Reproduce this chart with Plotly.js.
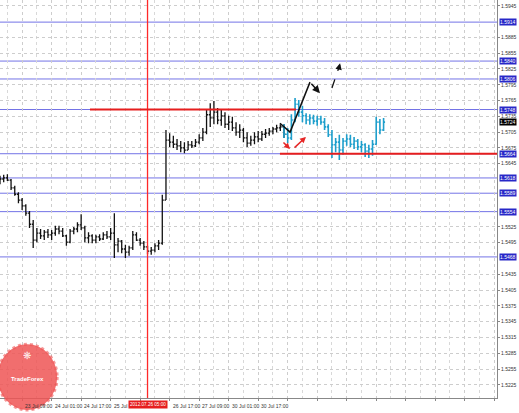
<!DOCTYPE html>
<html>
<head>
<meta charset="utf-8">
<script src="https://cdn.plot.ly/plotly-3.0.1.min.js"></script>
<style>html,body{margin:0;padding:0;background:#fff;}#chart{width:519px;height:413px;}</style>
</head>
<body>
<div id="chart"></div>
<script>
// ---- OHLC bars (2-hour bars) ----
const openP  = [1.5610,1.5616,1.5618,1.5614,1.5599,1.5587,1.5576,1.5565,1.5551,1.5530,
                1.5500,1.5513,1.5508,1.5515,1.5510,1.5513,1.5521,1.5517,1.5508,1.5496,
                1.5517,1.5521,1.5529,1.5523,1.5504,1.5508,1.5500,1.5506,1.5502,1.5510,
                1.5506,1.5513,1.5491,1.5498,1.5483,1.5477,1.5485,1.5510,1.5500,1.5494,
                1.5487,1.5479,1.5481,1.5489,1.5494,1.5576,1.5690,1.5686,1.5682,1.5679,
                1.5675,1.5671,1.5681,1.5679,1.5686,1.5694,1.5705,1.5738,1.5732,1.5743,
                1.5728,1.5736,1.5720,1.5724,1.5713,1.5705,1.5709,1.5694,1.5684,1.5690,
                1.5696,1.5692,1.5701,1.5703,1.5707,1.5711,1.5713,1.5715,1.5701,1.5694,
                1.5728,1.5758,1.5743,1.5736,1.5728,1.5732,1.5726,1.5730,1.5724,1.5715,
                1.5700,1.5681,1.5686,1.5671,1.5688,1.5692,1.5682,1.5688,1.5677,1.5681,
                1.5669,1.5673,1.5682,1.5724,1.5709];
const highP  = [1.5622,1.5624,1.5625,1.5616,1.5603,1.5591,1.5580,1.5568,1.5555,1.5538,
                1.5523,1.5521,1.5519,1.5521,1.5519,1.5527,1.5527,1.5523,1.5510,1.5521,
                1.5525,1.5534,1.5549,1.5527,1.5515,1.5511,1.5510,1.5511,1.5515,1.5517,
                1.5523,1.5551,1.5504,1.5500,1.5491,1.5489,1.5517,1.5515,1.5504,1.5498,
                1.5489,1.5487,1.5494,1.5500,1.5586,1.5709,1.5703,1.5698,1.5692,1.5688,
                1.5686,1.5688,1.5688,1.5692,1.5701,1.5713,1.5747,1.5760,1.5764,1.5751,
                1.5747,1.5743,1.5736,1.5734,1.5724,1.5720,1.5713,1.5705,1.5698,1.5705,
                1.5707,1.5707,1.5711,1.5713,1.5715,1.5719,1.5720,1.5720,1.5713,1.5739,
                1.5770,1.5766,1.5755,1.5741,1.5739,1.5738,1.5736,1.5736,1.5732,1.5720,
                1.5709,1.5694,1.5700,1.5694,1.5701,1.5700,1.5696,1.5692,1.5688,1.5684,
                1.5681,1.5690,1.5734,1.5730,1.5732];
const lowP   = [1.5606,1.5610,1.5612,1.5595,1.5584,1.5570,1.5557,1.5546,1.5523,1.5485,
                1.5496,1.5502,1.5500,1.5504,1.5500,1.5508,1.5511,1.5506,1.5489,1.5494,
                1.5511,1.5515,1.5519,1.5496,1.5494,1.5494,1.5494,1.5498,1.5500,1.5502,
                1.5500,1.5466,1.5477,1.5475,1.5466,1.5470,1.5481,1.5498,1.5489,1.5481,
                1.5473,1.5472,1.5477,1.5481,1.5491,1.5576,1.5677,1.5675,1.5671,1.5667,
                1.5665,1.5671,1.5675,1.5677,1.5682,1.5688,1.5701,1.5715,1.5720,1.5720,
                1.5717,1.5713,1.5709,1.5707,1.5698,1.5694,1.5686,1.5677,1.5679,1.5682,
                1.5686,1.5688,1.5694,1.5698,1.5701,1.5705,1.5707,1.5694,1.5684,1.5690,
                1.5724,1.5734,1.5724,1.5720,1.5719,1.5720,1.5717,1.5719,1.5709,1.5696,
                1.5656,1.5667,1.5652,1.5662,1.5679,1.5677,1.5673,1.5671,1.5667,1.5658,
                1.5656,1.5660,1.5681,1.5701,1.5707];
const closeP = [1.5616,1.5618,1.5614,1.5599,1.5587,1.5576,1.5565,1.5551,1.5530,1.5500,
                1.5513,1.5508,1.5515,1.5510,1.5513,1.5521,1.5517,1.5508,1.5496,1.5517,
                1.5521,1.5529,1.5523,1.5504,1.5508,1.5500,1.5506,1.5502,1.5510,1.5506,
                1.5513,1.5491,1.5498,1.5483,1.5477,1.5485,1.5510,1.5500,1.5494,1.5487,
                1.5479,1.5481,1.5489,1.5494,1.5576,1.5690,1.5686,1.5682,1.5679,1.5675,
                1.5671,1.5681,1.5679,1.5686,1.5694,1.5705,1.5738,1.5732,1.5743,1.5728,
                1.5736,1.5720,1.5724,1.5713,1.5705,1.5709,1.5694,1.5684,1.5690,1.5696,
                1.5692,1.5701,1.5703,1.5707,1.5711,1.5713,1.5715,1.5701,1.5694,1.5728,
                1.5758,1.5743,1.5736,1.5728,1.5732,1.5726,1.5730,1.5724,1.5715,1.5700,
                1.5681,1.5686,1.5671,1.5688,1.5692,1.5682,1.5688,1.5677,1.5681,1.5669,
                1.5673,1.5682,1.5724,1.5709,1.5724];
const cyanFrom = 77;          // first bar drawn in cyan
const barHours = 2;           // each bar = 2 hours on the time axis

// ---- price axis ----
const priceTicks = [1.5945,1.5885,1.5855,1.5825,1.5795,1.5765,1.5735,1.5705,1.5675,1.5645,
                    1.5525,1.5495,1.5435,1.5405,1.5375,1.5345,1.5315,1.5285,1.5255,1.5225];
const levelsBlue = [1.5914,1.5840,1.5806,1.5748,1.5664,1.5618,1.5589,1.5554,1.5468];
const lastPrice = 1.5724;
const bottomPriceLabel = 1.5195;

// ---- time axis ----
const timeTickHours = [-4,12,28,44,60,76,92,108,124,140];
const timeTickLabels = ["22 Jul 17:00","23 Jul 09:00","24 Jul 01:00","24 Jul 17:00","25 Jul 09:00",
                        "","26 Jul 17:00","27 Jul 09:00","30 Jul 01:00","30 Jul 17:00"];
const cursorHour = 80;
const cursorLabel = "2012.07.26 05:00";

// ---- analyst drawings ----
const redLevelA = {price:1.5748, from:48.8, to:160.5};
const redLevelB = {price:1.5664, from:151.8, to:269.5};
const blackPathH = [151.8,157.3,168.1];
const blackPathP = [1.5722,1.5705,1.5800];
const blackArrowEnd = {h:173.5, p:1.5779};
const dashedFrom = {h:180.0, p:1.5789};
const dashedTo = {h:184.4, p:1.5836};

const FONT = 'Liberation Sans, Arial, sans-serif';
const idx = openP.map((_, i) => i);
const hours = idx.map(i => i * barHours);
function part(arr, a, b){ return arr.slice(a, b); }

function ohlcTrace(a, b, color, w){
  return {
    type:'ohlc', x: part(hours,a,b), open: part(openP,a,b), high: part(highP,a,b),
    low: part(lowP,a,b), close: part(closeP,a,b),
    increasing:{line:{color:color, width:w}}, decreasing:{line:{color:color, width:w}},
    tickwidth:0.4, hoverinfo:'skip', showlegend:false
  };
}
const traces = [
  ohlcTrace(0, cyanFrom + 1, '#111111', 1.3),
  ohlcTrace(cyanFrom, openP.length, '#1f9fcc', 1.6)
];

const shapes = [];
levelsBlue.forEach(v => shapes.push({type:'line', xref:'paper', x0:0, x1:1, yref:'y', y0:v, y1:v,
  line:{color:'rgb(115,115,230)', width:1}, layer:'below'}));
shapes.push({type:'line', xref:'x', x0:cursorHour, x1:cursorHour, yref:'paper', y0:0, y1:1,
  line:{color:'rgb(255,40,40)', width:1.3}, layer:'above'});
[redLevelA, redLevelB].forEach(r => shapes.push({type:'line', x0:r.from, x1:r.to, y0:r.price, y1:r.price,
  line:{color:'rgb(230,30,30)', width:2}}));
let path = 'M ' + blackPathH[0] + ',' + blackPathP[0];
for (let i = 1; i < blackPathH.length; i++) path += ' L ' + blackPathH[i] + ',' + blackPathP[i];
shapes.push({type:'path', path: path, line:{color:'#111', width:1.5}});
shapes.push({type:'line', x0:dashedFrom.h, y0:dashedFrom.p, x1:dashedTo.h - 0.6, y1:dashedTo.p - 0.0008,
  line:{color:'#111', width:1.3, dash:'dash'}});
// watermark logo
shapes.push({type:'circle', xref:'paper', yref:'paper', x0:-0.005, x1:0.115, y0:-0.03, y1:0.135,
  fillcolor:'rgba(238,85,85,0.85)', line:{color:'rgba(238,85,85,0.6)', width:3, dash:'dot'}});

const ann = [];
levelsBlue.forEach(v => ann.push({xref:'paper', x:1, xanchor:'left', xshift:2, yref:'y', y:v,
  text:v.toFixed(4), showarrow:false, bgcolor:'rgb(40,40,200)', borderpad:0,
  font:{size:5, color:'#fff', family:FONT}}));
ann.push({xref:'paper', x:1, xanchor:'left', xshift:2, yref:'y', y:lastPrice, text:lastPrice.toFixed(4),
  showarrow:false, bgcolor:'#000', borderpad:0, font:{size:5, color:'#fff', family:FONT}});
ann.push({xref:'paper', x:1, xanchor:'left', xshift:3, yref:'y', y:bottomPriceLabel, text:bottomPriceLabel.toFixed(4),
  showarrow:false, font:{size:5, color:'#333', family:FONT}});
timeTickHours.forEach((h, i) => { if (timeTickLabels[i]) ann.push({xref:'x', x:h, xanchor:'left', xshift:1,
  yref:'paper', y:0, yanchor:'top', yshift:-3, text:timeTickLabels[i], showarrow:false,
  font:{size:5, color:'#333', family:FONT}}); });
ann.push({xref:'x', x:cursorHour, xanchor:'center', yref:'paper', y:0, yanchor:'top', yshift:-2,
  text:cursorLabel, showarrow:false, bgcolor:'rgb(230,30,30)', borderpad:1,
  font:{size:4.6, color:'#fff', family:FONT}});
// arrows
ann.push({x:blackArrowEnd.h, y:blackArrowEnd.p, ax:blackPathH[2], ay:blackPathP[2], axref:'x', ayref:'y',
  showarrow:true, arrowhead:2, arrowsize:1, arrowwidth:1.5, arrowcolor:'#111', text:''});
ann.push({x:dashedTo.h, y:dashedTo.p, ax:dashedTo.h - 0.8, ay:dashedTo.p - 0.0012, axref:'x', ayref:'y',
  showarrow:true, arrowhead:2, arrowsize:1, arrowwidth:1.3, arrowcolor:'#111', text:''});
ann.push({x:157.3, y:1.5673, ax:152.9, ay:1.5688, axref:'x', ayref:'y',
  showarrow:true, arrowhead:2, arrowsize:0.8, arrowwidth:1.5, arrowcolor:'rgb(230,40,40)', text:''});
ann.push({x:165.9, y:1.5696, ax:158.9, ay:1.5673, axref:'x', ayref:'y',
  showarrow:true, arrowhead:2, arrowsize:0.8, arrowwidth:1.5, arrowcolor:'rgb(230,40,40)', text:''});
ann.push({xref:'paper', yref:'paper', x:0.055, xanchor:'center', y:0.035, text:'<b>TradeForex</b>', showarrow:false,
  font:{size:6, color:'#fff', family:FONT}});
ann.push({xref:'paper', yref:'paper', x:0.055, xanchor:'center', y:0.085, text:'❋', showarrow:false,
  font:{size:10, color:'rgba(255,255,255,0.9)'}});

const layout = {
  width:519, height:413,
  margin:{l:0, r:22, t:0, b:15, pad:0},
  paper_bgcolor:'#fff', plot_bgcolor:'#fff',
  showlegend:false,
  xaxis:{range:[0,269.5], rangeslider:{visible:false}, tickmode:'array',
    tickvals:[12,28,44,60,76,92,108,124,140,156,172,188,204,220,236,252,268], showticklabels:false,
    ticks:'outside', ticklen:2, tickcolor:'#888', showline:true, linecolor:'#888', linewidth:1,
    showgrid:true, gridcolor:'#cdcdcd', griddash:'dot', gridwidth:1, zeroline:false, fixedrange:true,
    minor:{tickvals:[4,20,36,52,68,84,100,116,132,148,164,180,196,212,228,244,260], showgrid:true,
      gridcolor:'#d8d8d8', griddash:'dot'}},
  yaxis:{side:'right', range:[1.5200,1.5956], tickmode:'array', tickvals:priceTicks, tickformat:'.4f',
    tickfont:{size:5, color:'#333', family:FONT}, ticks:'outside', ticklen:2,
    tickcolor:'#888', showline:true, linecolor:'#888', linewidth:1, showgrid:true, gridcolor:'#cdcdcd',
    griddash:'dot', zeroline:false, fixedrange:true},
  shapes:shapes, annotations:ann
};
Plotly.newPlot('chart', traces, layout, {staticPlot:true, displayModeBar:false});
</script>
</body>
</html>
